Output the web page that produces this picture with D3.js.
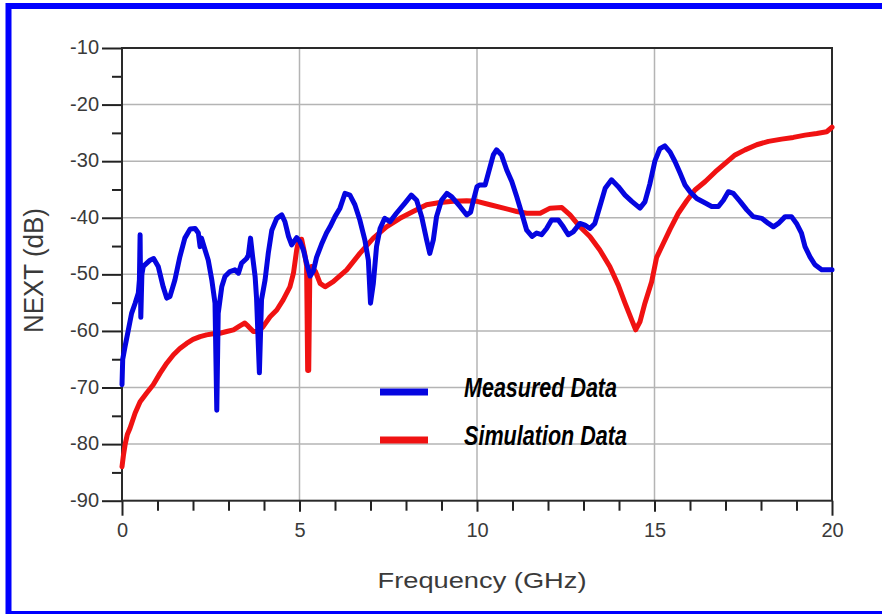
<!DOCTYPE html>
<html>
<head>
<meta charset="utf-8">
<script src="https://cdn.jsdelivr.net/npm/d3@7"></script>
<style>
  html, body { margin: 0; padding: 0; background: #ffffff; }
  svg { display: block; }
  text { font-family: "Liberation Sans", Arial, sans-serif; }
</style>
</head>
<body>
<svg id="chart" width="882" height="614"></svg>
<script>
// ---------- data ----------
const freqMeasured = [0.00,0.02,0.085,0.18,0.27,0.37,0.46,0.49,0.51,0.53,0.56,0.60,0.79,0.89,1.02,1.16,1.26,1.35,1.49,1.63,1.77,1.92,2.06,2.15,2.20,2.24,2.34,2.43,2.53,2.62,2.67,2.71,2.81,2.90,3.04,3.18,3.28,3.37,3.51,3.56,3.62,3.68,3.75,3.79,3.87,3.93,4.03,4.12,4.22,4.36,4.50,4.59,4.69,4.78,4.92,5.01,5.11,5.20,5.30,5.39,5.48,5.62,5.76,5.86,6.00,6.14,6.28,6.42,6.56,6.70,6.84,6.94,7.00,7.08,7.17,7.27,7.40,7.55,7.73,7.97,8.15,8.30,8.44,8.58,8.67,8.77,8.86,9.00,9.15,9.29,9.52,9.71,9.82,9.90,10.00,10.08,10.23,10.32,10.46,10.55,10.69,10.84,10.98,11.12,11.26,11.40,11.55,11.68,11.82,11.96,12.10,12.29,12.43,12.57,12.71,12.90,13.04,13.18,13.32,13.46,13.61,13.79,13.98,14.17,14.36,14.59,14.73,14.87,15.01,15.15,15.29,15.44,15.58,15.72,15.86,16.00,16.19,16.43,16.61,16.80,16.94,17.08,17.22,17.41,17.60,17.78,18.02,18.21,18.35,18.49,18.68,18.86,19.00,19.14,19.24,19.38,19.52,19.71,19.85,20.00];
const nextMeasured = [-69.5,-65.0,-62.8,-59.8,-56.9,-55.1,-53.3,-51.0,-43.0,-57.6,-50.0,-48.6,-47.5,-47.2,-48.6,-52.2,-54.2,-53.9,-51.0,-46.9,-43.6,-42.0,-41.9,-42.7,-45.1,-43.6,-45.7,-47.5,-51.0,-55.1,-74.0,-56.9,-52.2,-50.4,-49.5,-49.2,-49.8,-48.0,-47.2,-46.6,-43.6,-46.9,-50.4,-54.2,-67.4,-54.5,-51.0,-46.3,-42.2,-40.1,-39.5,-40.7,-43.3,-44.8,-43.5,-44.2,-45.7,-48.0,-50.3,-49.4,-47.0,-44.7,-42.7,-41.6,-39.8,-38.3,-35.7,-36.0,-37.7,-40.4,-43.9,-47.5,-55.1,-51.6,-45.1,-41.9,-40.1,-40.7,-39.2,-37.4,-36.0,-36.9,-39.8,-43.9,-46.3,-43.9,-39.8,-36.9,-35.7,-36.3,-38.0,-39.5,-39.0,-36.9,-34.5,-34.2,-34.2,-32.1,-28.9,-28.0,-28.9,-31.6,-33.6,-36.3,-39.2,-42.2,-43.3,-42.7,-43.0,-41.9,-40.4,-40.4,-41.6,-43.0,-42.5,-41.0,-41.3,-41.9,-41.0,-38.0,-34.8,-33.3,-34.5,-36.0,-37.1,-38.3,-37.2,-34.0,-30.0,-27.8,-27.3,-28.4,-30.1,-32.1,-34.2,-35.4,-36.6,-37.4,-38.0,-38.0,-36.9,-35.4,-35.7,-37.1,-38.6,-39.8,-40.1,-41.0,-41.6,-41.0,-39.8,-39.8,-41.0,-42.7,-45.1,-46.9,-48.3,-49.2,-49.2,-49.2];

const freqSim = [0.00,0.04,0.09,0.15,0.225,0.37,0.51,0.69,0.88,1.07,1.26,1.45,1.63,1.82,2.00,2.20,2.38,2.57,2.76,2.95,3.14,3.32,3.46,3.56,3.70,3.84,3.98,4.17,4.36,4.54,4.73,4.83,4.92,4.98,5.06,5.15,5.20,5.23,5.26,5.29,5.34,5.45,5.58,5.72,5.95,6.33,6.70,7.08,7.45,7.83,8.20,8.58,8.96,9.33,9.71,10.00,10.37,10.75,11.12,11.40,11.78,12.06,12.39,12.62,12.90,13.18,13.46,13.74,13.98,14.17,14.36,14.47,14.59,14.73,14.92,15.06,15.25,15.44,15.67,15.91,16.14,16.43,16.71,16.99,17.27,17.55,17.88,18.21,18.58,18.91,19.24,19.57,19.85,20.00];
const nextSim = [-84.0,-82.0,-80.0,-78.3,-77.2,-74.5,-72.5,-71.0,-69.5,-67.5,-65.7,-64.2,-63.1,-62.2,-61.5,-61.0,-60.7,-60.5,-60.4,-60.1,-59.8,-59.1,-58.6,-59.2,-60.1,-60.1,-59.2,-57.5,-56.3,-54.5,-52.2,-49.8,-45.7,-43.9,-43.8,-46.5,-48.5,-67.0,-67.0,-50.0,-48.6,-49.5,-51.6,-52.2,-51.3,-49.2,-46.3,-43.6,-41.6,-40.1,-38.9,-37.7,-37.3,-37.1,-37.0,-37.1,-37.7,-38.3,-38.9,-39.2,-39.2,-38.3,-38.2,-39.5,-41.6,-43.3,-45.7,-48.6,-51.9,-55.1,-58.1,-59.8,-58.4,-55.1,-51.3,-47.0,-44.5,-42.0,-39.2,-37.0,-35.1,-33.6,-31.9,-30.4,-28.9,-28.0,-27.1,-26.5,-26.1,-25.8,-25.4,-25.1,-24.8,-24.0];

const xTicks = [0, 5, 10, 15, 20];
const xMinorTicks = [1,2,3,4,6,7,8,9,11,12,13,14,16,17,18,19];
const yTicks = [-10,-20,-30,-40,-50,-60,-70,-80,-90];
const yMinorTicks = [-15,-25,-35,-45,-55,-65,-75,-85];
const seriesNames = ["Measured Data", "Simulation Data"];
const seriesColors = ["#0505e0", "#f01212"];
const xTitle = "Frequency (GHz)";
const yTitle = "NEXT (dB)";

// ---------- layout ----------
const svg = d3.select("#chart");
const plotLeft = 122, plotRight = 832, plotTop = 48, plotBottom = 500.7;

const x = d3.scaleLinear().domain([0, 20]).range([plotLeft, plotRight]);
const y = d3.scaleLinear().domain([-90, -10]).range([plotBottom, plotTop]);
const hyphenFormat = d => String(d);

// outer blue frame
svg.append("rect")
  .attr("x", 8.5).attr("y", 6)
  .attr("width", 900).attr("height", 608)
  .attr("fill", "#ffffff")
  .attr("stroke", "#0000ff").attr("stroke-width", 6);

// grid lines
const grid = svg.append("g");
grid.selectAll("line.h").data(yTicks.filter(d => d > -90 && d < -10)).join("line")
  .attr("x1", plotLeft).attr("x2", plotRight)
  .attr("y1", d => y(d)).attr("y2", d => y(d))
  .attr("stroke", "#b4b4b4").attr("stroke-width", 1.5);
grid.selectAll("line.v").data(xTicks.filter(d => d > 0 && d < 20)).join("line")
  .attr("y1", plotTop).attr("y2", plotBottom)
  .attr("x1", d => x(d)).attr("x2", d => x(d))
  .attr("stroke", "#b4b4b4").attr("stroke-width", 1.5);

// y axis
const yAxisMajor = svg.append("g").attr("transform", `translate(${plotLeft},0)`)
  .call(d3.axisLeft(y).tickValues(yTicks).tickSize(20).tickPadding(3).tickFormat(hyphenFormat));
const yAxisMinor = svg.append("g").attr("transform", `translate(${plotLeft},0)`)
  .call(d3.axisLeft(y).tickValues(yMinorTicks).tickSize(10).tickFormat(""));

// x axis
const xAxisMajor = svg.append("g").attr("transform", `translate(0,${plotBottom})`)
  .call(d3.axisBottom(x).tickValues(xTicks).tickSize(11).tickPadding(11).tickFormat(hyphenFormat));
const xAxisMinor = svg.append("g").attr("transform", `translate(0,${plotBottom})`)
  .call(d3.axisBottom(x).tickValues(xMinorTicks).tickSize(10).tickFormat(""));

[yAxisMajor, yAxisMinor, xAxisMajor, xAxisMinor].forEach(g => {
  g.select(".domain").remove();
  g.selectAll(".tick line").attr("stroke", "#222").attr("stroke-width", 2);
  g.selectAll(".tick text").attr("fill", "#3a3a3a").style("font-size", "20px")
    .style("font-family", '"Liberation Sans", Arial, sans-serif');
});
yAxisMajor.selectAll(".tick text").attr("dy", "0.28em");
xAxisMajor.selectAll(".tick line").attr("y2", d => (d === 0 || d === 20) ? 15 : 11);

// plot frame
svg.append("rect")
  .attr("x", plotLeft).attr("y", plotTop)
  .attr("width", plotRight - plotLeft).attr("height", plotBottom - plotTop)
  .attr("fill", "none").attr("stroke", "#2a2a2a").attr("stroke-width", 2);

// series lines
const line = d3.line().x(d => x(d[0])).y(d => y(d[1]));
const measured = freqMeasured.map((f, i) => [f, nextMeasured[i]]);
const simulated = freqSim.map((f, i) => [f, nextSim[i]]);

svg.append("path").datum(simulated)
  .attr("d", line).attr("fill", "none")
  .attr("stroke", seriesColors[1]).attr("stroke-width", 5)
  .attr("stroke-linejoin", "round").attr("stroke-linecap", "round");
svg.append("path").datum(measured)
  .attr("d", line).attr("fill", "none")
  .attr("stroke", seriesColors[0]).attr("stroke-width", 5)
  .attr("stroke-linejoin", "round").attr("stroke-linecap", "round");

// legend
const legendY = [392, 440];
const legendTextLen = [153, 163];
const legend = svg.append("g");
seriesNames.forEach((name, i) => {
  legend.append("line")
    .attr("x1", 380).attr("x2", 428)
    .attr("y1", legendY[i]).attr("y2", legendY[i])
    .attr("stroke", seriesColors[i]).attr("stroke-width", 7);
  legend.append("text")
    .attr("x", 464).attr("y", legendY[i] + 5)
    .attr("textLength", legendTextLen[i]).attr("lengthAdjust", "spacingAndGlyphs")
    .style("font-size", "27px").style("font-weight", "bold").style("font-style", "italic")
    .attr("fill", "#000")
    .text(name);
});

// axis titles
svg.append("text")
  .attr("x", 482).attr("y", 588)
  .attr("text-anchor", "middle")
  .attr("textLength", 209).attr("lengthAdjust", "spacingAndGlyphs")
  .style("font-size", "22px").attr("fill", "#3a3a3a")
  .text(xTitle);

svg.append("text")
  .attr("transform", "translate(43,270.5) rotate(-90)")
  .attr("text-anchor", "middle")
  .attr("textLength", 125).attr("lengthAdjust", "spacingAndGlyphs")
  .style("font-size", "27px").attr("fill", "#3a3a3a")
  .text(yTitle);
</script>
</body>
</html>
